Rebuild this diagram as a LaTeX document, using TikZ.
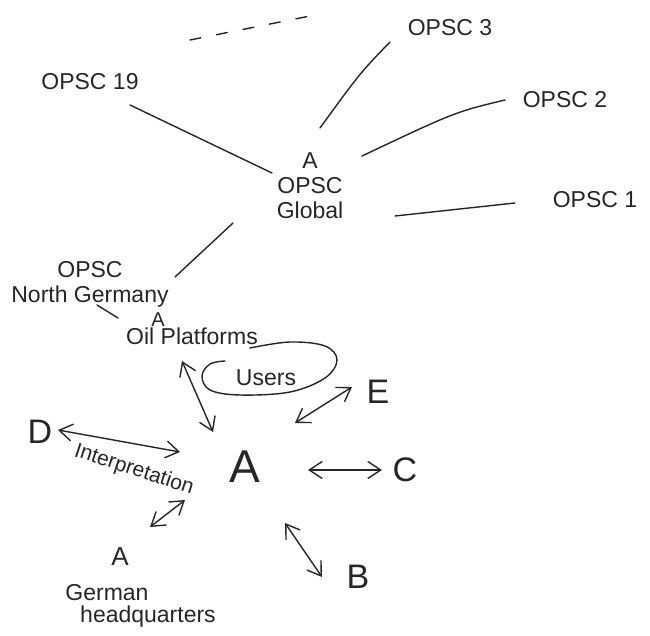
\documentclass[tikz,border=0pt]{standalone}
\usepackage{fontspec}
\setmainfont{Liberation Sans}
\usetikzlibrary{arrows.meta,calc}
\begin{document}
\begin{tikzpicture}[x=1pt,y=-1pt,
  ink/.style={draw=black!85, line width=1.4pt, line cap=round},
  link/.style={ink},
  twoway/.style={ink, {Straight Barb[length=13pt,width=17pt]}-{Straight Barb[length=13pt,width=17pt]}},
  lbl/.style={inner sep=0pt, text=black!85, font=\fontsize{23}{25}\selectfont},
  big/.style={lbl, font=\fontsize{34}{36}\selectfont},
  huge/.style={lbl, font=\fontsize{46}{48}\selectfont}]
\fill[white] (0,0) rectangle (650,636);
\useasboundingbox (0,0) rectangle (650,636);

% global hub and its regional centres
\node[lbl] (o3)  at (450,28)  {OPSC 3};
\node[lbl] (o19) at (90,82)   {OPSC 19};
\node[lbl] (o2)  at (565,100) {OPSC 2};
\node[lbl] (o1)  at (595,200) {OPSC 1};
\node[lbl, align=center] (glob) at (310,186) {A\\OPSC\\Global};

% regional centre and platforms
\node[lbl, align=center] (ng) at (90,284) {OPSC\\North Germany};
\node[lbl, font=\fontsize{20}{22}\selectfont] (oa) at (158,320) {A};
\node[lbl] (oil) at (192,336) {Oil Platforms};
\node[lbl] (users) at (266,378) {Users};

% local node and its partners
\node[huge] (ca) at (245,467) {A};
\node[big] (nd) at (40,432)  {D};
\node[big] (ne) at (378,392) {E};
\node[big] (nc) at (405,470) {C};
\node[big] (nb) at (358,577) {B};
\node[lbl, font=\fontsize{21}{23}\selectfont, rotate=-18] (interp) at (134,470) {Interpretation};

% headquarters
\node[lbl, font=\fontsize{26}{28}\selectfont] (ha) at (120,557) {A};
\node[lbl] (hq1) at (107,593) {German};
\node[lbl] (hq2) at (148,617) {headquarters};

% further centres, only hinted at
\draw[ink, dash pattern=on 11pt off 16pt] ($(o19)+(100,-42)$) -- ($(o3)+(-135,-13)$);

% links to the global hub
\draw[link] ($(o3)+(-60,14)$) .. controls ($(o3)+(-90,45)$) .. ($(glob)+(10,-58)$);
\draw[link] ($(o19)+(40,23)$) -- ($(glob)+(-38,-13)$);
\draw[link] ($(o2)+(-60,0)$) .. controls ($(o2)+(-110,12)$) .. ($(glob)+(52,-30)$);
\draw[link] ($(glob)+(85,30)$) -- ($(o1)+(-80,3)$);
\draw[link] ($(glob)+(-77,37)$) -- ($(ng)+(85,-7)$);
\draw[link] ($(ng)+(7,21)$) -- ($(oa)+(-40,-2)$);

% users loop
\draw[ink] plot[smooth, tension=0.6] coordinates {(250,348) (290,342) (325,346) (337,360) (325,378) (290,392) (240,395) (210,390) (202,376) (210,364) (225,361)};

% two-way exchanges
\draw[twoway] ($(oil)+(-10,25)$) -- ($(ca)+(-32,-35)$);
\draw[twoway] ($(ne)+(-26,-5)$) -- ($(ca)+(50,-44)$);
\draw[twoway] ($(nd)+(18,-2)$) -- ($(ca)+(-65,-15)$);
\draw[twoway] ($(ca)+(63,3)$) -- ($(nc)+(-23,0)$);
\draw[twoway] ($(ca)+(-60,33)$) -- ($(ha)+(30,-30)$);
\draw[twoway] ($(ca)+(40,56)$) -- ($(nb)+(-36,0)$);
\end{tikzpicture}
\end{document}
